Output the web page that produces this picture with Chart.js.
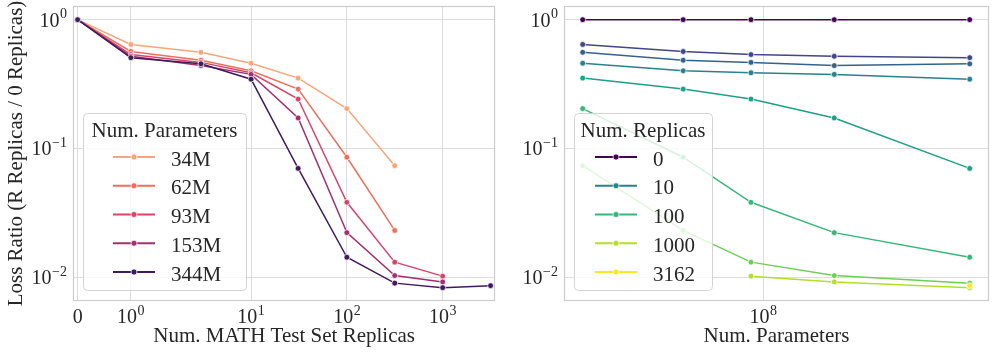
<!DOCTYPE html>
<html>
<head>
<meta charset="utf-8">
<script src="https://cdn.jsdelivr.net/npm/chart.js"></script>
<style>
    html, body { margin: 0; padding: 0; background: #ffffff; }
    #wrap { position: relative; width: 996px; height: 354px; }
    canvas { position: absolute; top: 0; }
    #leftChart { left: 0; }
    #rightChart { left: 500px; }
</style>
</head>
<body>
<div id="wrap">
    <canvas id="leftChart" width="500" height="354"></canvas>
    <canvas id="rightChart" width="496" height="354"></canvas>
</div>
<script>
// ---- data ----
const REPLICAS = [0, 1, 3, 10, 31, 100, 316, 1000, 3162];
const PARAMS = [34e6, 62e6, 93e6, 153e6, 344e6];
const PARAM_LABELS = ["34M", "62M", "93M", "153M", "344M"];

// loss ratio for each model size, one value per replica count (null = not run)
const LOSS_34M  = [1, 0.642, 0.558, 0.459, 0.352, 0.204, 0.0735, null, null];
const LOSS_62M  = [1, 0.566, 0.484, 0.401, 0.289, 0.0855, 0.0231, null, null];
const LOSS_93M  = [1, 0.536, 0.466, 0.387, 0.242, 0.0382, 0.0131, 0.0102, null];
const LOSS_153M = [1, 0.520, 0.440, 0.376, 0.1725, 0.0222, 0.0103, 0.0092, null];
const LOSS_344M = [1, 0.507, 0.454, 0.345, 0.0700, 0.0143, 0.0090, 0.0083, 0.0086];
const LOSS_BY_SIZE = [LOSS_34M, LOSS_62M, LOSS_93M, LOSS_153M, LOSS_344M];

const SIZE_COLORS = ["#f6a67a", "#ec6f5c", "#d8456b", "#a1306f", "#3f1a5d"];
const REPLICA_COLORS = ["#440154", "#404688", "#33638d", "#26828e", "#1f9e89",
                        "#35b779", "#6ece58", "#b5de2b", "#fde725"];
const REPLICA_LEGEND = [0, 10, 100, 1000, 3162];

const LEFT_X_TICKS = [0, 1, 10, 100, 1000];
const RIGHT_X_TICKS = [1e8];
const Y_TICKS = [1, 0.1, 0.01];

// ---- styling ----
const FONT = "'Liberation Serif', 'DejaVu Serif', serif";
const TEXT = "#262626";
const GRID = "#dcdcdc";
const SPINE = "#cccccc";
const LABEL_SIZE = 21;
const TICK_SIZE = 20;
const SUP_SIZE = 14;

// matplotlib style symlog (linthresh 2, linscale 1), in decades
const LINTHRESH = 2;
const LINSCALE_ADJ = 1 / (1 - 1 / 10);

function symlog(v) {
    const a = Math.abs(v);
    const t = a <= LINTHRESH
        ? a * LINSCALE_ADJ / LINTHRESH
        : LINSCALE_ADJ + Math.log10(a / LINTHRESH);
    return Math.sign(v) * t;
}

function symexp(t) {
    const a = Math.abs(t);
    const v = a <= LINSCALE_ADJ
        ? a * LINTHRESH / LINSCALE_ADJ
        : LINTHRESH * Math.pow(10, a - LINSCALE_ADJ);
    return Math.sign(t) * v;
}

class SymlogScale extends Chart.Scale {
    determineDataLimits() {
        const { min, max } = this.getMinMax(true);
        this.min = this.options.min ?? min;
        this.max = this.options.max ?? max;
    }

    buildTicks() {
        return LEFT_X_TICKS.map(value => ({ value }));
    }

    configure() {
        super.configure();
        this._startT = symlog(this.min);
        this._rangeT = symlog(this.max) - this._startT;
    }

    getLabelForValue(value) {
        return String(value);
    }

    getPixelForValue(value) {
        return this.getPixelForDecimal((symlog(value) - this._startT) / this._rangeT);
    }

    getValueForPixel(pixel) {
        return symexp(this._startT + this.getDecimalForPixel(pixel) * this._rangeT);
    }
}
SymlogScale.id = "symlog";
SymlogScale.defaults = {};
Chart.register(SymlogScale);

function tickText(value) {
    if (value === 0) return ["0", ""];
    const e = Math.round(Math.log10(value));
    return ["10", e < 0 ? "\u2212" + Math.abs(e) : String(e)];
}

function drawPower(ctx, value, x, baseline, align) {
    const [base, exp] = tickText(value);
    ctx.font = `${TICK_SIZE}px ${FONT}`;
    const wb = ctx.measureText(base).width;
    ctx.font = `${SUP_SIZE}px ${FONT}`;
    const we = exp ? ctx.measureText(exp).width + 0.5 : 0;
    const left = align === "right" ? x - wb - we : x - (wb + we) / 2;

    ctx.textAlign = "left";
    ctx.textBaseline = "alphabetic";
    ctx.font = `${TICK_SIZE}px ${FONT}`;
    ctx.fillText(base, left, baseline);
    if (exp) {
        ctx.font = `${SUP_SIZE}px ${FONT}`;
        ctx.fillText(exp, left + wb + 0.5, baseline - 8.5);
    }
}

const tickLabelPlugin = {
    id: "powerTicks",
    afterDraw(chart) {
        const { ctx, scales, chartArea } = chart;
        ctx.save();
        ctx.fillStyle = TEXT;
        scales.x.ticks.forEach(t => {
            drawPower(ctx, t.value, scales.x.getPixelForValue(t.value), chartArea.bottom + 22, "center");
        });
        scales.y.ticks.forEach(t => {
            drawPower(ctx, t.value, chartArea.left - 6, scales.y.getPixelForValue(t.value) + 7, "right");
        });
        ctx.restore();
    }
};

const framePlugin = {
    id: "frame",
    afterDatasetsDraw(chart) {
        const { ctx, chartArea } = chart;
        ctx.save();
        ctx.strokeStyle = SPINE;
        ctx.lineWidth = 1.2;
        ctx.strokeRect(
            Math.round(chartArea.left) + 0.5,
            Math.round(chartArea.top) + 0.5,
            Math.round(chartArea.right - chartArea.left) - 1,
            Math.round(chartArea.bottom - chartArea.top) - 1
        );
        ctx.restore();
    }
};

function roundedBox(ctx, x, y, w, h, r) {
    ctx.beginPath();
    ctx.moveTo(x + r, y);
    ctx.arcTo(x + w, y, x + w, y + h, r);
    ctx.arcTo(x + w, y + h, x, y + h, r);
    ctx.arcTo(x, y + h, x, y, r);
    ctx.arcTo(x, y, x + w, y, r);
    ctx.closePath();
}

// matplotlib-like legend drawn over the lines (white box at 80% opacity)
function boxLegend(id, title, items, box) {
    return {
        id,
        afterDatasetsDraw(chart) {
            const ctx = chart.ctx;
            ctx.save();
            roundedBox(ctx, box.x + 0.5, box.y + 0.5, box.w, box.h, 4);
            ctx.fillStyle = "rgba(255,255,255,0.8)";
            ctx.fill();
            ctx.strokeStyle = "#d4d4d4";
            ctx.lineWidth = 1;
            ctx.stroke();

            ctx.fillStyle = TEXT;
            ctx.font = `${LABEL_SIZE}px ${FONT}`;
            ctx.textAlign = "center";
            ctx.textBaseline = "alphabetic";
            ctx.fillText(title, box.x + box.w / 2, box.y + 23.5);

            items.forEach((item, k) => {
                const cy = box.y + 44 + k * 28.75;
                ctx.strokeStyle = item.color;
                ctx.lineWidth = 2;
                ctx.beginPath();
                ctx.moveTo(box.x + box.handle, cy);
                ctx.lineTo(box.x + box.handle + 42, cy);
                ctx.stroke();

                ctx.beginPath();
                ctx.arc(box.x + box.handle + 21, cy, 3, 0, Math.PI * 2);
                ctx.fillStyle = item.color;
                ctx.fill();
                ctx.strokeStyle = "#ffffff";
                ctx.lineWidth = 0.7;
                ctx.stroke();

                ctx.fillStyle = TEXT;
                ctx.textAlign = "left";
                ctx.fillText(item.label, box.x + box.text, cy + 8.5);
            });
            ctx.restore();
        }
    };
}

function lineStyle(color, order) {
    return {
        borderColor: color,
        backgroundColor: color,
        pointBackgroundColor: color,
        pointBorderColor: "#ffffff",
        pointBorderWidth: 0.7,
        pointRadius: 2.9,
        borderWidth: 1.5,
        tension: 0,
        order
    };
}

function axisOptions(extra) {
    return Object.assign({
        grid: { color: GRID, lineWidth: 1, drawTicks: false, tickLength: 0 },
        border: { display: false },
        ticks: { display: false, autoSkip: false }
    }, extra);
}

function axisTitle(text, padding) {
    return {
        display: true,
        text,
        color: TEXT,
        font: { family: FONT, size: LABEL_SIZE },
        padding
    };
}

const leftDatasets = LOSS_BY_SIZE.map((row, i) => Object.assign({
    label: PARAM_LABELS[i],
    data: REPLICAS.map((r, j) => ({ x: r, y: row[j] })).filter(p => p.y !== null)
}, lineStyle(SIZE_COLORS[i], LOSS_BY_SIZE.length - i)));

const rightDatasets = REPLICAS.map((r, j) => Object.assign({
    label: String(r),
    data: PARAMS.map((p, i) => ({ x: p, y: LOSS_BY_SIZE[i][j] })).filter(p => p.y !== null)
}, lineStyle(REPLICA_COLORS[j], REPLICAS.length - j)));

const yAxis = width => axisOptions({
    type: "logarithmic",
    min: 0.00654,
    max: 1.277,
    bounds: "data",
    afterBuildTicks: s => { s.ticks = Y_TICKS.map(value => ({ value })); },
    afterFit: s => { s.width = width; }
});

const baseOptions = {
    responsive: false,
    animation: false,
    events: [],
    plugins: { legend: { display: false }, tooltip: { enabled: false } }
};

new Chart(document.getElementById("leftChart"), {
    type: "line",
    data: { datasets: leftDatasets },
    options: Object.assign({}, baseOptions, {
        layout: { padding: { top: 6, right: 1, left: 0, bottom: 0 } },
        scales: {
            x: axisOptions({
                type: "symlog",
                min: -0.087,
                max: 3540,
                afterFit: s => { s.height = 53; },
                title: axisTitle("Num. MATH Test Set Replicas", { bottom: 5 })
            }),
            y: Object.assign(yAxis(73), {
                title: axisTitle("Loss Ratio (R Replicas / 0 Replicas)", { top: 4 })
            })
        }
    }),
    plugins: [
        framePlugin,
        boxLegend("leftLegend", "Num. Parameters",
            PARAM_LABELS.map((label, i) => ({ label, color: SIZE_COLORS[i] })),
            { x: 83, y: 113, w: 163, h: 177, handle: 30, text: 88 }),
        tickLabelPlugin
    ]
});

new Chart(document.getElementById("rightChart"), {
    type: "line",
    data: { datasets: rightDatasets },
    options: Object.assign({}, baseOptions, {
        layout: { padding: { top: 6, right: 7, left: 0, bottom: 0 } },
        scales: {
            x: axisOptions({
                type: "logarithmic",
                min: 3.04e7,
                max: 3.86e8,
                bounds: "data",
                afterBuildTicks: s => { s.ticks = RIGHT_X_TICKS.map(value => ({ value })); },
                afterFit: s => { s.height = 53; },
                title: axisTitle("Num. Parameters", { bottom: 5 })
            }),
            y: yAxis(64)
        }
    }),
    plugins: [
        framePlugin,
        boxLegend("rightLegend", "Num. Replicas",
            REPLICA_LEGEND.map(r => ({ label: String(r), color: REPLICA_COLORS[REPLICAS.indexOf(r)] })),
            { x: 74, y: 113, w: 138, h: 177, handle: 21, text: 79 }),
        tickLabelPlugin
    ]
});
</script>
</body>
</html>
